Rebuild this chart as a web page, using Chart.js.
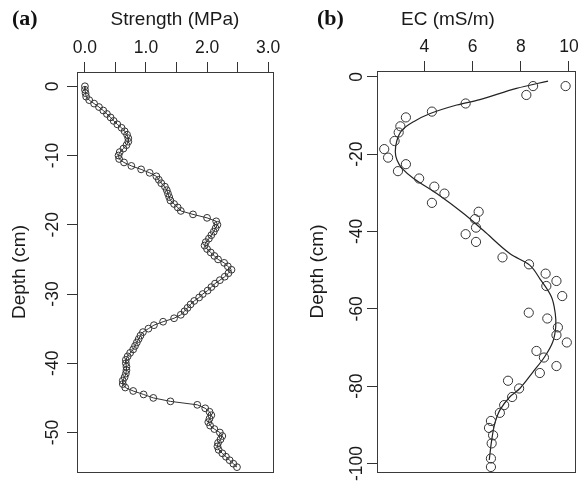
<!DOCTYPE html>
<html>
<head>
<meta charset="utf-8">
<script src="https://cdn.jsdelivr.net/npm/chart.js@4"></script>
<style>
  html, body { margin: 0; padding: 0; background: #fff; }
  #wrap { position: relative; width: 583px; height: 484px; overflow: hidden; }
  canvas { position: absolute; top: 0; }
  .lab { position: absolute; font-family: "Liberation Serif", "Times New Roman", serif; font-weight: bold; font-size: 22px; color: #111; line-height: 1; }
  .ttl { position: absolute; font-family: "Liberation Sans", Arial, sans-serif; font-size: 19px; color: #1a1a1a; line-height: 1; white-space: nowrap; }
</style>
</head>
<body>
<div id="wrap">
  <canvas id="ca" width="291" height="484" style="left:0px"></canvas>
  <canvas id="cb" width="292" height="484" style="left:291px"></canvas>
  <div class="lab" style="left:12px; top:7px;">(a)</div>
  <div class="lab" style="left:317px; top:7px;">(b)</div>
  <div class="ttl" style="left:401px; top:9px;">EC (mS/m)</div>
</div>
<script>
// ---------- Panel (a): strength profile ----------
const depthA = [0,-0.5,-1,-1.5,-2,-2.5,-3,-3.5,-4,-4.5,-5,-5.5,-6,-6.5,-7,-7.5,-8,-8.5,-9,-9.5,
  -10,-10.5,-11,-11.5,-12,-12.5,-13,-13.5,-14,-14.5,-15,-15.5,-16,-16.5,-17,-17.5,-18,-18.5,-19,-19.5,
  -20,-20.5,-21,-21.5,-22,-22.5,-23,-23.5,-24,-24.5,-25,-25.5,-26,-26.5,-27,-27.5,-28,-28.5,-29,-29.5,
  -30,-30.5,-31,-31.5,-32,-32.5,-33,-33.5,-34,-34.5,-35,-35.5,-36,-36.5,-37,-37.5,-38,-38.5,-39,-39.5,
  -40,-40.5,-41,-41.5,-42,-42.5,-43,-43.5,-44,-44.5,-45,-45.5,-46,-46.5,-47,-47.5,-48,-48.5,-49,-49.5,
  -50,-50.5,-51,-51.5,-52,-52.5,-53,-53.5,-54,-54.5,-55];
const strengthA = [0.00,0.00,0.01,0.02,0.07,0.15,0.23,0.30,0.36,0.42,
  0.47,0.53,0.60,0.65,0.69,0.71,0.71,0.68,0.63,0.57,
  0.55,0.56,0.64,0.76,0.92,1.06,1.17,1.21,1.25,1.31,
  1.34,1.36,1.38,1.40,1.46,1.52,1.57,1.77,2.00,2.15,
  2.17,2.14,2.11,2.07,2.03,1.98,1.96,2.00,2.06,2.12,
  2.18,2.28,2.34,2.40,2.35,2.29,2.21,2.13,2.07,2.01,
  1.93,1.87,1.79,1.73,1.68,1.63,1.57,1.46,1.28,1.13,
  1.04,0.95,0.91,0.88,0.85,0.82,0.79,0.74,0.70,0.67,
  0.67,0.68,0.68,0.67,0.65,0.62,0.62,0.66,0.79,0.96,
  1.12,1.40,1.84,1.97,2.04,2.07,2.04,2.02,2.05,2.12,
  2.21,2.25,2.22,2.18,2.17,2.19,2.25,2.31,2.37,2.43,
  2.49];
const strengthTicks = [0,0.5,1,1.5,2,2.5,3];
const strengthLabels = ['0.0','','1.0','','2.0','','3.0'];
const depthTicksA = [0,-10,-20,-30,-40,-50];

// ---------- Panel (b): EC profile ----------
const ecObs = [8.51,9.86,8.23,5.71,4.31,3.23,3.00,2.93,2.76,2.33,2.49,3.23,2.90,3.78,4.41,4.83,4.31,
  6.25,6.10,6.14,5.71,6.14,7.24,8.34,9.03,9.48,9.06,9.72,8.33,9.10,9.54,9.48,9.91,8.65,8.96,9.48,
  8.79,7.47,7.93,7.64,7.31,7.13,6.76,6.68,6.85,6.79,6.76,6.76];
const depthObs = [-2.4,-2.4,-4.7,-6.9,-9.0,-10.5,-12.8,-14.4,-16.6,-18.7,-20.9,-22.6,-24.4,-26.3,-28.4,
  -30.2,-32.6,-34.9,-36.8,-39.0,-40.7,-42.7,-46.7,-48.5,-50.9,-52.8,-54.1,-56.7,-61.0,-62.5,-64.8,
  -66.8,-68.7,-70.9,-72.6,-74.8,-76.6,-78.6,-80.6,-82.8,-84.9,-86.9,-89.0,-90.8,-92.7,-94.8,-98.7,-100.9];
const ecFit = [9.13,7.82,6.30,5.34,4.24,3.55,3.07,2.86,2.79,2.86,3.07,3.55,4.51,5.61,6.44,7.54,8.37,8.80,
  9.27,9.43,9.45,9.33,8.99,8.51,7.96,7.54,7.13,6.92,6.79,6.69];
const depthFit = [-1.1,-3.0,-5.9,-7.3,-9.5,-11.6,-13.8,-16.4,-19.4,-21.5,-23.7,-26.3,-30.2,-35.3,-39.7,
  -45.7,-48.7,-52.3,-56.9,-61.2,-64.7,-68.5,-72.4,-76.3,-80.6,-82.8,-86.2,-89.7,-94.0,-99.1];
const ecTicks = [4,6,8,10];
const depthTicksB = [0,-20,-40,-60,-80,-100];

Chart.defaults.font.family = '"Liberation Sans", Arial, sans-serif';
Chart.defaults.color = '#1a1a1a';
Chart.defaults.animation = false;

const INK = '#333';
const TICK_FONT = 17.5;
const TITLE_FONT = 19;

const boxPlugin = {
  id: 'box',
  afterDraw(chart) {
    const a = chart.chartArea, c = chart.ctx;
    c.save();
    c.strokeStyle = '#3a3a3a';
    c.lineWidth = 1;
    c.strokeRect(Math.round(a.left) + 0.5, Math.round(a.top) + 0.5,
                 Math.round(a.right - a.left), Math.round(a.bottom - a.top));
    c.restore();
  }
};

function xAxis(min, max, ticks, labels, title, h, titlePad) {
  return {
    type: 'linear', position: 'top', min, max,
    afterBuildTicks: s => { s.ticks = ticks.map(v => ({ value: v })); },
    afterFit: s => { s.height = h; },
    ticks: {
      font: { size: TICK_FONT }, color: '#1a1a1a', padding: 3,
      callback: (v) => { const i = ticks.indexOf(v); return labels ? labels[i] : String(v); }
    },
    grid: { display: true, drawOnChartArea: false, drawTicks: true, tickLength: 10, color: INK, lineWidth: 1 },
    border: { display: false },
    title: { display: !!title, text: title || '', font: { size: TITLE_FONT }, color: '#1a1a1a', padding: { top: titlePad, bottom: 0 } }
  };
}
function yAxis(min, max, ticks, w, tickPad, titlePad) {
  return {
    type: 'linear', position: 'left', min, max,
    afterBuildTicks: s => { s.ticks = ticks.map(v => ({ value: v })); },
    afterFit: s => { s.width = w; },
    ticks: {
      font: { size: TICK_FONT }, color: '#1a1a1a', padding: tickPad,
      minRotation: 90, maxRotation: 90, crossAlign: 'center',
      callback: (v) => String(v)
    },
    grid: { display: true, drawOnChartArea: false, drawTicks: true, tickLength: 10, color: INK, lineWidth: 1 },
    border: { display: false },
    title: { display: true, text: 'Depth (cm)', font: { size: TITLE_FONT }, color: '#1a1a1a', padding: { top: titlePad, bottom: 0 } }
  };
}

new Chart(document.getElementById('ca'), {
  type: 'scatter',
  data: {
    datasets: [{
      data: strengthA.map((s, i) => ({ x: s, y: depthA[i] })),
      showLine: true,
      borderColor: INK, borderWidth: 1,
      pointRadius: 3.4, pointBorderWidth: 1, pointBorderColor: INK,
      pointBackgroundColor: 'rgba(255,255,255,0)'
    }]
  },
  options: {
    responsive: false, devicePixelRatio: 1,
    layout: { padding: { left: 0, right: 18, top: 0, bottom: 12 } },
    plugins: { legend: { display: false }, tooltip: { enabled: false } },
    scales: {
      x: xAxis(-0.13, 3.08, strengthTicks, strengthLabels, 'Strength (MPa)', 72, 8),
      y: yAxis(-55.7, 2.06, depthTicksA, 77, 1, 8)
    }
  },
  plugins: [boxPlugin]
});

new Chart(document.getElementById('cb'), {
  type: 'scatter',
  data: {
    datasets: [{
      data: ecObs.map((e, i) => ({ x: e, y: depthObs[i] })),
      showLine: false,
      pointRadius: 4.6, pointBorderWidth: 1, pointBorderColor: INK,
      pointBackgroundColor: 'rgba(255,255,255,0)'
    }, {
      data: ecFit.map((e, i) => ({ x: e, y: depthFit[i] })),
      showLine: true, tension: 0.35,
      borderColor: '#222', borderWidth: 1.2,
      pointRadius: 0
    }]
  },
  options: {
    responsive: false, devicePixelRatio: 1,
    layout: { padding: { left: 0, right: 8, top: 0, bottom: 12 } },
    plugins: { legend: { display: false }, tooltip: { enabled: false } },
    scales: {
      x: xAxis(2.03, 10.25, ecTicks, null, null, 71, 5),
      y: yAxis(-102.2, 1.5, depthTicksB, 86, -8, 15)
    }
  },
  plugins: [boxPlugin]
});
</script>
</body>
</html>
